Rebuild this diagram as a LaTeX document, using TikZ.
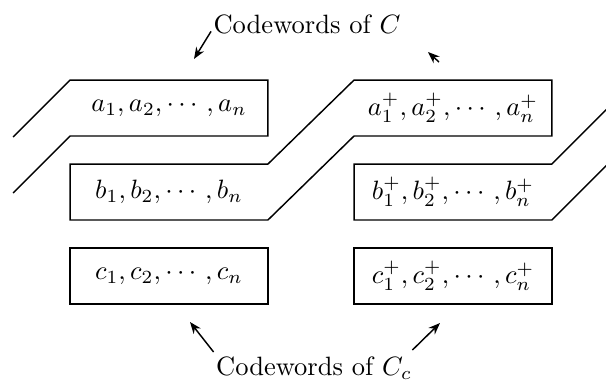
\documentclass[tikz,border=0pt]{standalone}
\usepackage{amsmath}
\usepackage{tikz}
\usetikzlibrary{arrows.meta}

\begin{document}
\begin{tikzpicture}[x=0.377pt, y=-0.377pt,
    cell/.style={minimum width=74.6pt, minimum height=21.1pt, inner sep=0pt, outer sep=0pt},
    band/.style={line width=0.55pt},
    lbl/.style={inner sep=0pt},
    arr/.style={-{Stealth[length=4.4pt, width=3.4pt]}, line width=0.55pt}
]
    \useasboundingbox (0,0) rectangle (606,382);

    % blocks of codewords
    \node[cell] (a)  at (169,108) {$a_1, a_2, \cdots, a_n$};
    \node[cell] (ap) at (453,108) {$a_1^+, a_2^+, \cdots, a_n^+$};
    \node[cell] (b)  at (169,192) {$b_1, b_2, \cdots, b_n$};
    \node[cell] (bp) at (453,192) {$b_1^+, b_2^+, \cdots, b_n^+$};
    \node[cell, draw, band] (c)  at (169,276) {$c_1, c_2, \cdots, c_n$};
    \node[cell, draw, band] (cp) at (453,276) {$c_1^+, c_2^+, \cdots, c_n^+$};

    % bands running from block to block
    \draw[band] ([shift={(-57,57)}]a.north west) -- (a.north west) -- (a.north east)
        -- (a.south east) -- (a.south west) -- ++(-57,57);
    \draw[band] (b.north west) -- (b.north east) -- (ap.north west) -- (ap.north east)
        -- (ap.south east) -- (ap.south west) -- (b.south east) -- (b.south west) -- cycle;
    \draw[band] ([shift={(56,-56)}]bp.north east) -- (bp.north east) -- (bp.north west)
        -- (bp.south west) -- (bp.south east) -- ++(56,-56);

    % labels
    \node[lbl, anchor=north] (lblC)  at (307,14)  {Codewords of $C$};
    \node[lbl, anchor=north] (lblCc) at (314,356) {Codewords of $C_c$};

    \coordinate (tipC)   at (194,59);
    \coordinate (stubC)  at (439,62);
    \coordinate (tipCc)  at (190,322);
    \coordinate (tipCcp) at (440,323);

    \draw[arr] ([shift={(-2,-3)}]lblC.south west) -- (tipC);
    \draw[arr] (stubC) -- ++(-11,-10);
    \draw[arr] ([shift={(-2,-4)}]lblCc.north west) -- (tipCc);
    \draw[arr] ([shift={(0,-6)}]lblCc.north east) -- (tipCcp);
\end{tikzpicture}
\end{document}
